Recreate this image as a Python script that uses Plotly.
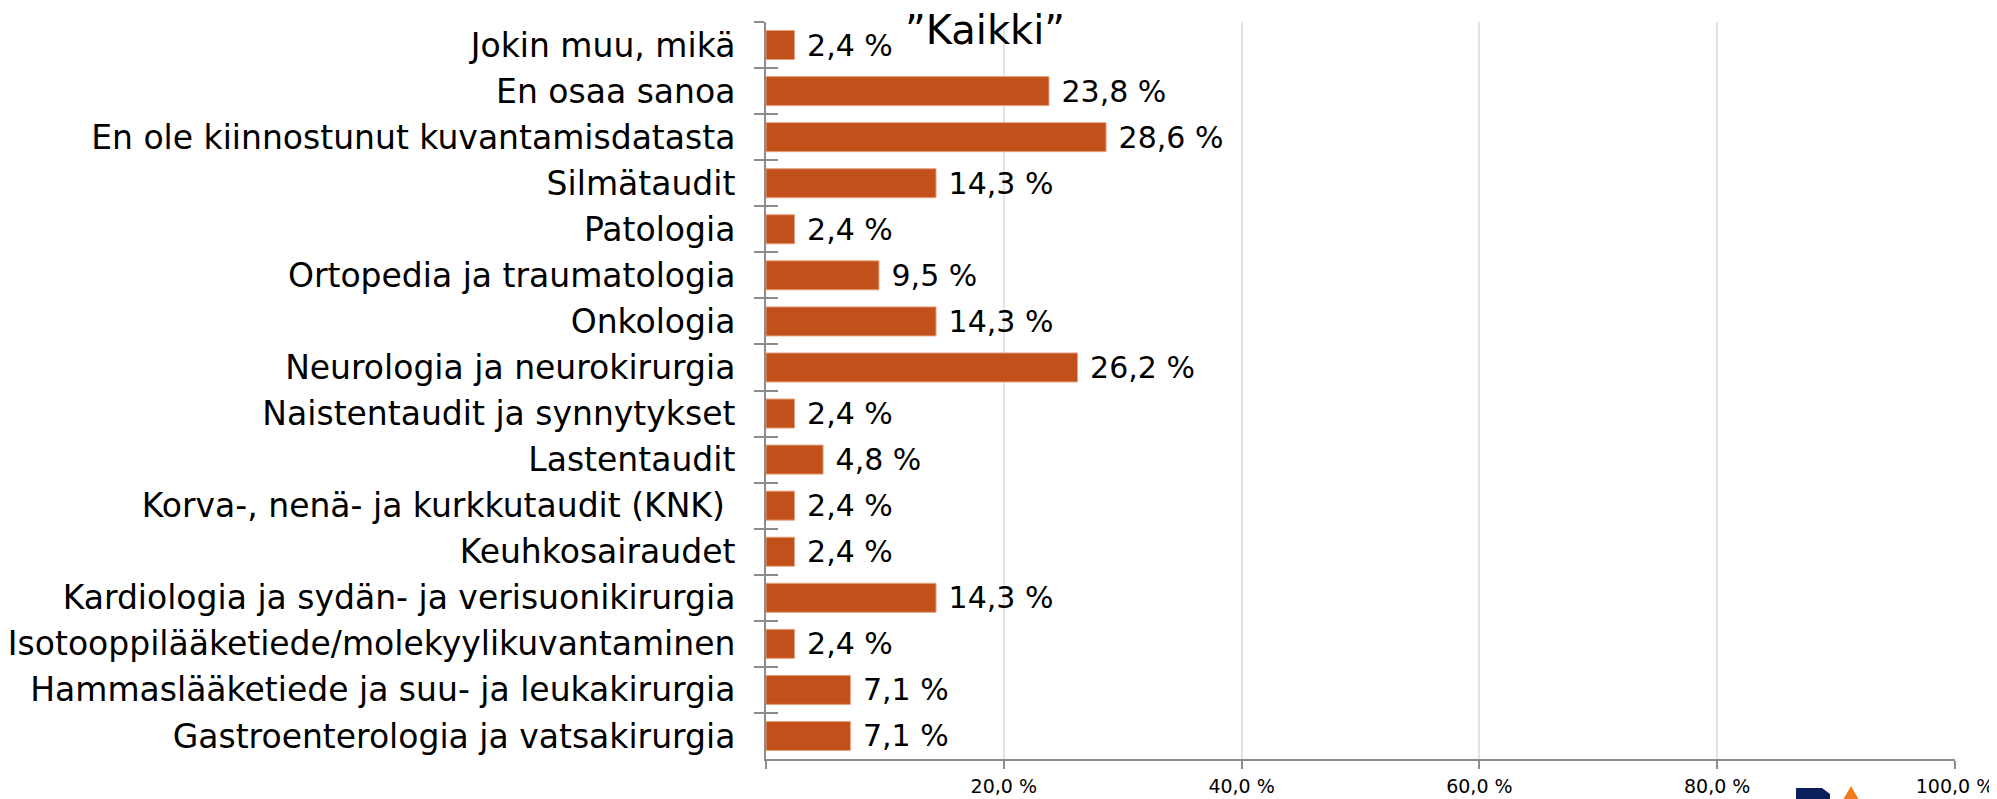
import plotly.graph_objects as go

# categories listed top to bottom as in the chart
categories = [
    "Jokin muu, mikä",
    "En osaa sanoa",
    "En ole kiinnostunut kuvantamisdatasta",
    "Silmätaudit",
    "Patologia",
    "Ortopedia ja traumatologia",
    "Onkologia",
    "Neurologia ja neurokirurgia",
    "Naistentaudit ja synnytykset",
    "Lastentaudit",
    "Korva-, nenä- ja kurkkutaudit (KNK)\u00a0",
    "Keuhkosairaudet",
    "Kardiologia ja sydän- ja verisuonikirurgia",
    "Isotooppilääketiede/molekyylikuvantaminen",
    "Hammaslääketiede ja suu- ja leukakirurgia",
    "Gastroenterologia ja vatsakirurgia",
]
values = [2.4, 23.8, 28.6, 14.3, 2.4, 9.5, 14.3, 26.2, 2.4, 4.8, 2.4, 2.4, 14.3, 2.4, 7.1, 7.1]

x_tickvals = [0, 20, 40, 60, 80, 100]
x_ticktext = ["", "20,0 %", "40,0 %", "60,0 %", "80,0 %", "100,0 %"]

title_text = "\u201dKaikki\u201d"

BAR = "#C1501A"
AXIS = "#8C8C8C"
GRID = "#DCE4EE"
FONT = "DejaVu Sans, Liberation Sans, sans-serif"

# the page body has an 8px margin, so the figure is a bit smaller than the window
OFF = 8
W, H = 1997 - OFF, 799 - OFF
L, R, T, B = 766 - OFF, 42, 22 - OFF, 40
pw, ph = W - L - R, H - T - B


def px(x, y):
    # window pixel -> paper coords
    return (x - OFF - L) / pw, (H - B - (y - OFF)) / ph


fig = go.Figure()

fig.add_trace(
    go.Bar(
        x=values,
        y=categories,
        orientation="h",
        marker=dict(color=BAR, line=dict(color="#E9A27F", width=1)),
        texttemplate="\u00a0%{x:.1f} %",
        textposition="outside",
        constraintext="none",
        textfont=dict(size=30, color="#000000", family=FONT),
        cliponaxis=False,
        hoverinfo="x+y",
    )
)

# invisible copy on a second y axis, only to get tick marks on the inner side too
fig.add_trace(
    go.Bar(
        x=values,
        y=categories,
        orientation="h",
        yaxis="y2",
        opacity=0,
        hoverinfo="skip",
        showlegend=False,
    )
)

fig.update_layout(
    width=W,
    height=H,
    margin=dict(l=L, r=R, t=T, b=B),
    plot_bgcolor="white",
    paper_bgcolor="white",
    separators=", ",
    bargap=0.37,
    showlegend=False,
    font=dict(family=FONT, color="#000000"),
    xaxis=dict(
        range=[0, 100],
        tickvals=x_tickvals,
        ticktext=x_ticktext,
        showgrid=True,
        gridcolor=GRID,
        gridwidth=2,
        zeroline=False,
        showline=True,
        linecolor=AXIS,
        linewidth=2,
        ticks="outside",
        ticklen=8,
        tickwidth=2,
        tickcolor=AXIS,
        tickfont=dict(size=19, color="#000000"),
        ticklabelstandoff=1,
        automargin=False,
    ),
    yaxis=dict(
        type="category",
        categoryorder="array",
        categoryarray=categories,
        autorange="reversed",
        showline=True,
        linecolor=AXIS,
        linewidth=2,
        ticks="outside",
        tickson="boundaries",
        ticklen=10,
        tickwidth=2,
        tickcolor=AXIS,
        tickfont=dict(size=33, color="#000000"),
        ticklabelstandoff=22,
        showgrid=False,
        automargin=False,
    ),
    yaxis2=dict(
        type="category",
        categoryorder="array",
        categoryarray=categories,
        autorange="reversed",
        overlaying="y",
        side="left",
        showline=False,
        ticks="inside",
        tickson="boundaries",
        ticklen=12,
        tickwidth=2,
        tickcolor=AXIS,
        showticklabels=False,
        showgrid=False,
        automargin=False,
    ),
)

tx, ty = px(985, 30)
fig.add_annotation(
    text=title_text,
    x=tx,
    y=ty,
    xref="paper",
    yref="paper",
    xanchor="center",
    yanchor="middle",
    showarrow=False,
    font=dict(size=40, color="#000000", family=FONT),
)

# cut-off logo at the bottom edge
a = px(1796, 788)
b = px(1822, 788)
c = px(1830, 794)
d = px(1830, 800)
e = px(1796, 800)
fig.add_shape(
    type="path",
    xref="paper",
    yref="paper",
    path=f"M {a[0]},{a[1]} L {b[0]},{b[1]} L {c[0]},{c[1]} L {d[0]},{d[1]} L {e[0]},{e[1]} Z",
    fillcolor="#0B1F5C",
    line=dict(width=0),
)
p = px(1851, 786)
q = px(1843, 800)
s = px(1859, 800)
fig.add_shape(
    type="path",
    xref="paper",
    yref="paper",
    path=f"M {p[0]},{p[1]} L {s[0]},{s[1]} L {q[0]},{q[1]} Z",
    fillcolor="#F07A1E",
    line=dict(width=0),
)

fig.write_html("out.html")
